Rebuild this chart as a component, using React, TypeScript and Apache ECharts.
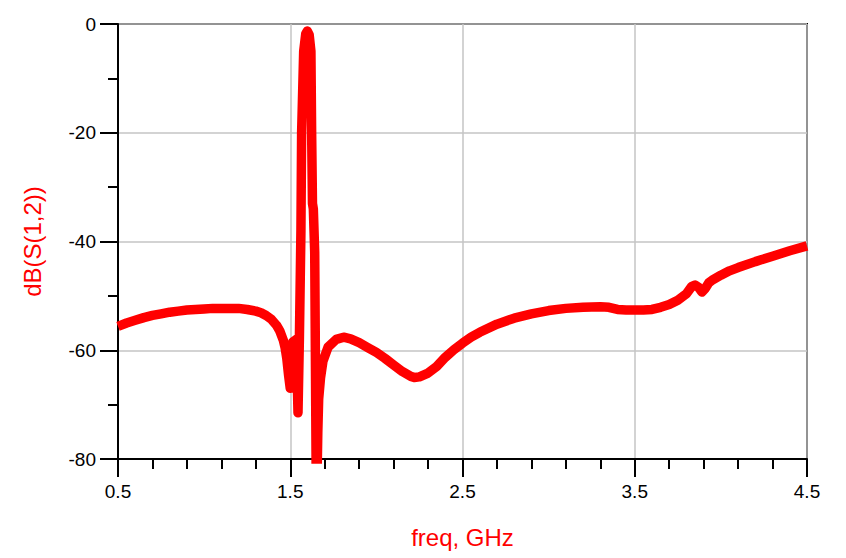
import React, { useEffect, useRef } from "react";
import * as echarts from "echarts";

const freqGHz: number[] = [
  0.5, 0.55, 0.6, 0.65, 0.7, 0.75, 0.8, 0.85, 0.9, 0.95, 1.0, 1.05, 1.1, 1.15, 1.2, 1.25, 1.3, 1.33,
  1.36, 1.39, 1.42, 1.44, 1.46, 1.47, 1.48, 1.49, 1.5, 1.508, 1.515, 1.535, 1.545, 1.553, 1.562, 1.566,
  1.578, 1.59, 1.599, 1.61, 1.62, 1.624, 1.629, 1.634, 1.642, 1.652, 1.66, 1.665, 1.676, 1.69, 1.72, 1.767,
  1.81, 1.85, 1.9, 1.95, 2.0, 2.05, 2.1, 2.15, 2.2, 2.22, 2.25, 2.3, 2.35, 2.4, 2.45, 2.5, 2.55, 2.6,
  2.7, 2.8, 2.9, 3.0, 3.1, 3.2, 3.3, 3.35, 3.4, 3.45, 3.5, 3.55, 3.6, 3.65, 3.7, 3.75, 3.8, 3.83, 3.85,
  3.87, 3.89, 3.91, 3.93, 3.95, 4.0, 4.05, 4.1, 4.2, 4.3, 4.4, 4.5,
];

const dBS12: number[] = [
  -55.6, -55.0, -54.5, -54.0, -53.6, -53.3, -53.0, -52.8, -52.6, -52.5, -52.4, -52.3, -52.3, -52.3, -52.3, -52.5, -52.8, -53.1,
  -53.6, -54.3, -55.4, -56.5, -58.2, -59.5, -61.5, -64.5, -67.0, -66.5, -58.5, -58.0, -71.5, -58.0, -38.0, -20.0,
  -5.0, -1.8, -1.3, -2.0, -5.0, -19.5, -33.0, -34.0, -42.0, -90.0, -75.0, -69.0, -65.0, -62.0, -59.4, -58.0,
  -57.6, -57.9, -58.6, -59.5, -60.4, -61.5, -62.7, -63.9, -64.8, -65.0, -64.9, -64.2, -63.0, -61.3, -59.9, -58.7, -57.6, -56.7,
  -55.2, -54.1, -53.3, -52.7, -52.3, -52.1, -52.0, -52.1, -52.5, -52.6, -52.6, -52.6, -52.5, -52.1, -51.6, -50.8, -49.6, -48.3, -48.0,
  -48.4, -49.3, -48.6, -47.6, -47.1, -46.2, -45.4, -44.8, -43.7, -42.7, -41.7, -40.8,
];

const xMin = 0.5;
const xMax = 4.5;
const xStep = 1;
const yMin = -80;
const yMax = 0;
const yStep = 20;

const FONT = "'Liberation Sans', Arial, sans-serif";

export default function App() {
  const ref = useRef<HTMLDivElement>(null);

  useEffect(() => {
    if (!ref.current) return;
    const chart = echarts.init(ref.current, undefined, { renderer: "svg" });
    const data = freqGHz.map((f, i) => [f, dBS12[i]]);
    chart.setOption({
      animation: false,
      backgroundColor: "#ffffff",
      grid: {
        left: 118,
        right: 39,
        top: 24,
        bottom: 99,
        show: true,
        borderColor: "#000000",
        borderWidth: 2,
        backgroundColor: "transparent",
      },
      xAxis: {
        type: "value",
        min: xMin,
        max: xMax,
        interval: xStep,
        name: "freq, GHz",
        nameLocation: "middle",
        nameGap: 66,
        nameTextStyle: { color: "#ff0000", fontSize: 24, fontFamily: FONT },
        axisLine: { show: true, onZero: false, lineStyle: { color: "#000000", width: 2 } },
        axisTick: { show: true, length: 18, lineStyle: { color: "#000000", width: 2 } },
        minorTick: { show: true, splitNumber: 5, length: 10, lineStyle: { color: "#000000", width: 2 } },
        axisLabel: { color: "#000000", fontSize: 19, fontFamily: FONT, margin: 23 },
        splitLine: { show: true, lineStyle: { color: "#c4c4c4", width: 1.5 } },
      },
      yAxis: {
        type: "value",
        min: yMin,
        max: yMax,
        interval: yStep,
        name: "dB(S(1,2))",
        nameLocation: "middle",
        nameGap: 74,
        nameRotate: 90,
        nameTextStyle: { color: "#ff0000", fontSize: 24, fontFamily: FONT },
        axisLine: { show: true, onZero: false, lineStyle: { color: "#000000", width: 2 } },
        axisTick: { show: true, length: 18, lineStyle: { color: "#000000", width: 2 } },
        minorTick: { show: true, splitNumber: 2, length: 10, lineStyle: { color: "#000000", width: 2 } },
        axisLabel: { color: "#000000", fontSize: 19, fontFamily: FONT, margin: 22 },
        splitLine: { show: true, lineStyle: { color: "#c4c4c4", width: 1.5 } },
      },
      series: [
        {
          type: "line",
          data,
          showSymbol: false,
          symbol: "none",
          clip: true,
          lineStyle: { color: "#ff0000", width: 9.5, join: "round" },
        },
      ],
    });
    return () => chart.dispose();
  }, []);

  return (
    <div
      ref={ref}
      style={{ position: "fixed", left: 0, top: 0, width: 846, height: 558, background: "#fff" }}
    />
  );
}
